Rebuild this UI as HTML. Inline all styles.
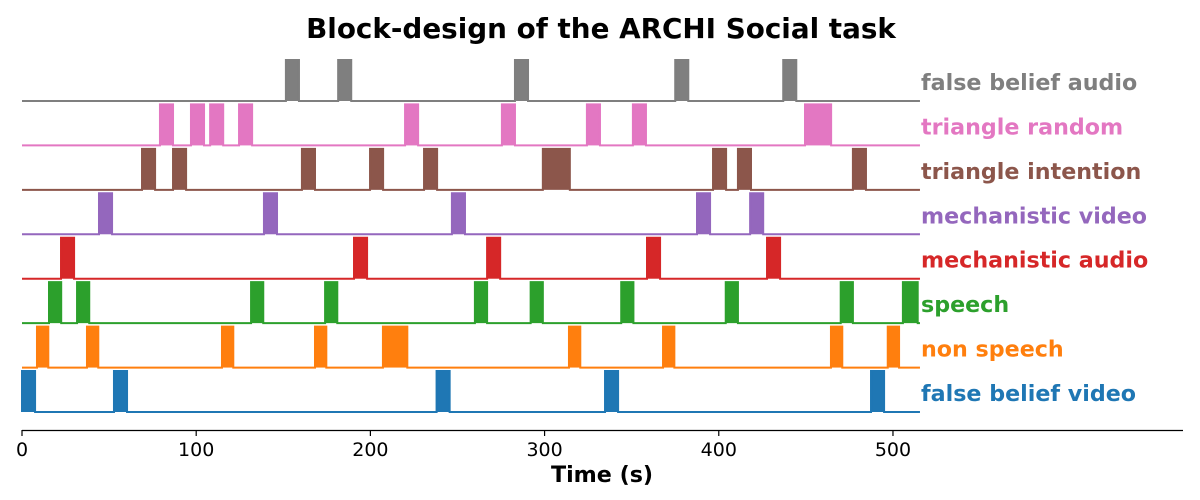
<!DOCTYPE html>
<html><head><meta charset="utf-8"><style>
html,body{margin:0;padding:0;background:#fff;}
svg{display:block;font-family:"DejaVu Sans","Liberation Sans",sans-serif;}
</style></head><body>
<svg id="chart" width="1200" height="500"></svg>
<script>
const conditions = ["false belief video","non speech","speech","mechanistic audio","mechanistic video","triangle intention","triangle random","false belief audio"];
const colors = ["#1f77b4","#ff7f0e","#2ca02c","#d62728","#9467bd","#8c564b","#e377c2","#7f7f7f"];
const onsets = [
  [0,52.8,238,334.7,487.4],
  [8.6,37.3,114.8,168.2,207.2,314,368,464.4,497],
  [15.5,31.6,131.5,174,260,292,344,404,470,505.7],
  [22.4,190.6,267,358.8,427.7],
  [44.2,138.9,246.8,387.5,418],
  [68.9,86.7,160.7,199.8,230.8,299,396.7,411,477],
  [79.2,97,108,124.6,219.9,275.5,324.3,350.7,449.5],
  [151.5,181.5,283,375,437]
];
const durations = [
  [7.5,7.5,7.5,7.5,7.5],
  [6.5,6.5,6.5,6.5,14,6.5,6.5,6.5,6.5],
  [7,7,7,7,7,7,7,7,7,8.5],
  [7.5,7.5,7.5,7.5,7.5],
  [7.5,7.5,7.5,7.5,7.5],
  [7.5,7.5,7.5,7.5,7.5,15.5,7.5,7.5,7.5],
  [7.5,7.5,7.5,7.5,7.5,7.5,7.5,7.5,15],
  [7.5,7.5,7.5,7.5,7.5]
];
const xTicks = [0,100,200,300,400,500];
const runEnd = 515.5;
const xMax = 666.5;

const svg = document.getElementById('chart');
const NS = 'http://www.w3.org/2000/svg';
const X0 = 22, X1 = 1183;
const xs = t => X0 + t * (X1 - X0) / xMax;
const base = i => 412 - i * 44.43;
const H = 41;
function mk(tag, attrs, parent){
  const e = document.createElementNS(NS, tag);
  for (const k in attrs) e.setAttribute(k, attrs[k]);
  (parent || svg).appendChild(e);
  return e;
}
const title = mk('text',{x:601,y:38,'text-anchor':'middle','font-size':27.8,'font-weight':'bold',fill:'#000'});
title.textContent = 'Block-design of the ARCHI Social task';



conditions.forEach((c,i)=>{
  const g = mk('g',{});
  
  
  const b = base(i);
  let d = 'M'+xs(0)+','+b;
  onsets[i].forEach((o,j)=>{
    const e = o + durations[i][j];
    d += ' L'+xs(o)+','+b+' L'+xs(o)+','+(b-H)+' L'+xs(e)+','+(b-H)+' L'+xs(e)+','+b;
  });
  d += ' L'+xs(runEnd)+','+b;
  onsets[i].forEach((o,j)=>{
    const r = mk('rect',{x:xs(o),y:b-H,width:xs(o+durations[i][j])-xs(o),height:H,fill:colors[i]},g);
    
    
  });
  const p = mk('path',{d:d,fill:'none',stroke:colors[i],'stroke-width':2},g);
  
  
  const t = mk('text',{x:921,y:b-11,'font-size':22.2,'font-weight':'bold',fill:colors[i]},g);
  t.textContent = c;
  
  
});

const ax = mk('line',{x1:X0,x2:X1,y1:430.5,y2:430.5,stroke:'#000','stroke-width':1.2});


xTicks.forEach(v=>{
  const tk = mk('line',{x1:xs(v),x2:xs(v),y1:430,y2:436,stroke:'#000','stroke-width':1.2});
  
  
  const tl = mk('text',{x:xs(v),y:456,'text-anchor':'middle','font-size':19,fill:'#000'});
  tl.textContent = v;
  
  
});
const xl = mk('text',{x:602,y:482,'text-anchor':'middle','font-size':22.2,'font-weight':'bold',fill:'#000'});
xl.textContent = 'Time (s)';


</script>
</body></html>
